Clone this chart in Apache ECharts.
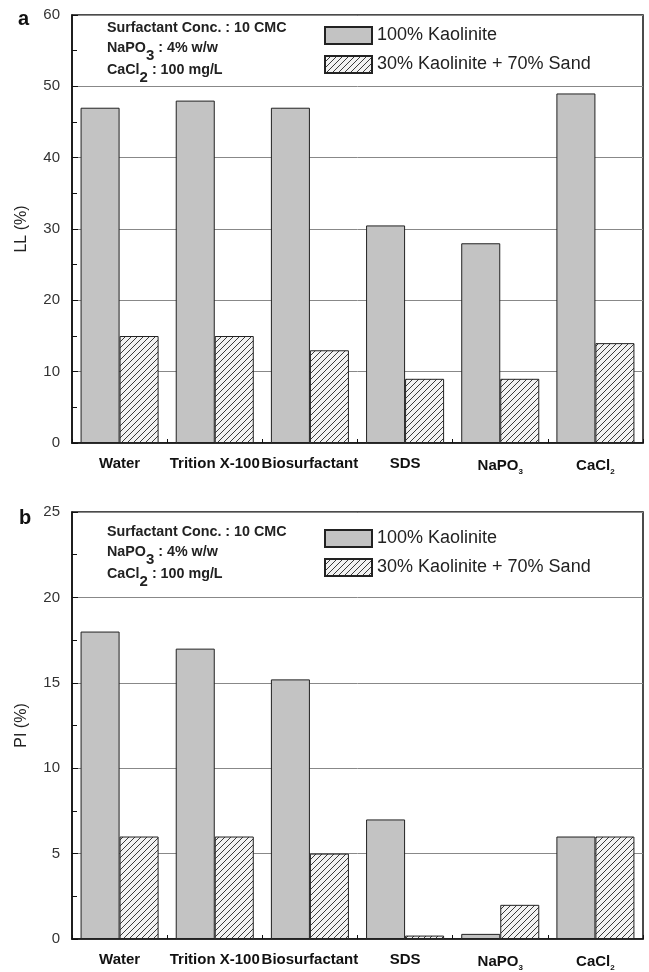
<!DOCTYPE html>
<html><head><meta charset="utf-8">
<script src="https://cdn.jsdelivr.net/npm/echarts@6/dist/echarts.min.js"></script>
<style>html,body{margin:0;padding:0;background:#fff}#c{width:649px;height:972px}</style>
</head><body><div id="c"></div>
<script>
const categories = ['Water','Trition X-100','Biosurfactant','SDS','NaPO3','CaCl2'];
const seriesNames = ['100% Kaolinite','30% Kaolinite + 70% Sand'];
const llKaolinite = [47, 48, 47, 30.5, 28, 49];
const llMix = [15, 15, 13, 9, 9, 14];
const piKaolinite = [18, 17, 15.2, 7, 0.3, 6];
const piMix = [6, 6, 5, 0.2, 2, 6];
const llTicks = {min: 0, max: 60, interval: 10};
const piTicks = {min: 0, max: 25, interval: 5};

function hatch() {
  const s = 6;
  const cv = document.createElement('canvas');
  cv.width = s; cv.height = s;
  const ctx = cv.getContext('2d');
  ctx.fillStyle = '#f2f2f2';
  ctx.fillRect(0, 0, s, s);
  ctx.strokeStyle = '#3a3a3a';
  ctx.lineWidth = 1;
  ctx.beginPath();
  ctx.moveTo(-1, s + 1); ctx.lineTo(s + 1, -1);
  ctx.moveTo(-1, 1); ctx.lineTo(1, -1);
  ctx.moveTo(s - 1, s + 1); ctx.lineTo(s + 1, s - 1);
  ctx.stroke();
  return {image: cv, repeat: 'repeat'};
}
const hatchFill = hatch();
const grayFill = '#c3c3c3';

const chart = echarts.init(document.getElementById('c'), null, {renderer: 'canvas'});
const font = 'Arial, "Liberation Sans", sans-serif';

const catLabel = {
  interval: 0,
  fontFamily: font, fontWeight: 'bold', fontSize: 15, color: '#111', margin: 13,
  formatter: v => {
    if (v === 'NaPO3') return '{b|NaPO}{s|3}';
    if (v === 'CaCl2') return '{b|CaCl}{s|2}';
    return '{b|' + v + '}';
  },
  rich: {
    b: {fontFamily: font, fontWeight: 'bold', fontSize: 15, color: '#111'},
    s: {fontFamily: font, fontWeight: 'bold', fontSize: 8, color: '#111', padding: [12, 0, 0, 0]}
  }
};

function xAxis(gi) {
  return {
    type: 'category', gridIndex: gi, data: categories,
    axisLine: {lineStyle: {color: '#111', width: 1.5}},
    axisTick: {show: true, inside: true, length: 4, interval: 0, lineStyle: {color: '#111'}},
    axisLabel: catLabel,
    splitLine: {show: false}
  };
}
function yAxis(gi, t, name) {
  return {
    type: 'value', gridIndex: gi, min: t.min, max: t.max, interval: t.interval,
    name: name, nameLocation: 'middle', nameGap: 42,
    nameTextStyle: {fontFamily: font, fontSize: 16, color: '#222'},
    axisLine: {show: true, lineStyle: {color: '#111', width: 1.5}},
    axisTick: {show: true, inside: true, length: 6, lineStyle: {color: '#111'}},
    minorTick: {show: true, splitNumber: 2, length: 5, lineStyle: {color: '#111'}},
    axisLabel: {fontFamily: font, fontSize: 15, color: '#333', margin: 12},
    splitLine: {show: true, lineStyle: {color: '#888', width: 1}}
  };
}
function barSeries(name, xi, data, fill, z) {
  return {
    type: 'bar', name: name, xAxisIndex: xi, yAxisIndex: xi, data: data,
    barGap: '0%', barCategoryGap: '18%',
    itemStyle: {color: fill, borderColor: '#222', borderWidth: 1},
    emphasis: {disabled: true}, z: z
  };
}
function legend(top) {
  return {
    top: top, left: 319, orient: 'vertical', itemWidth: 47, itemHeight: 17, itemGap: 10,
    icon: 'rect',
    data: seriesNames,
    textStyle: {fontFamily: font, fontSize: 18, color: '#222'},
    selectedMode: false
  };
}
function note(top) {
  const m = {fontFamily: font, fontWeight: 'bold', fontSize: 14.3, fill: '#222'};
  const s = {fontFamily: font, fontWeight: 'bold', fontSize: 15, fill: '#222', padding: [16, 0, 0, 0]};
  return [
    {type: 'text', left: 107, top: top, style: Object.assign({text: 'Surfactant Conc. : 10 CMC'}, m)},
    {type: 'text', left: 107, top: top + 20, style: Object.assign({}, m, {
      text: '{m|NaPO}{s|3}{m| : 4% w/w}', rich: {m: m, s: s}
    })},
    {type: 'text', left: 107, top: top + 42, style: Object.assign({}, m, {
      text: '{m|CaCl}{s|2}{m| : 100 mg/L}', rich: {m: m, s: s}
    })}
  ];
}

chart.setOption({
  animation: false,
  backgroundColor: '#fff',
  grid: [
    {left: 72, right: 6, top: 15, bottom: 529, show: true, borderColor: '#111', borderWidth: 1.5, containLabel: false},
    {left: 72, right: 6, top: 512, bottom: 32, show: true, borderColor: '#111', borderWidth: 1.5, containLabel: false}
  ],
  xAxis: [xAxis(0), xAxis(1)],
  yAxis: [yAxis(0, llTicks, 'LL (%)'), yAxis(1, piTicks, 'PI (%)')],
  legend: [legend(21), legend(524)],
  series: [
    barSeries(seriesNames[0], 0, llKaolinite, grayFill, 2),
    barSeries(seriesNames[1], 0, llMix, hatchFill, 2),
    barSeries(seriesNames[0], 1, piKaolinite, grayFill, 2),
    barSeries(seriesNames[1], 1, piMix, hatchFill, 2)
  ],
  graphic: [
    {type: 'text', left: 18, top: 9, style: {text: 'a', fontFamily: font, fontWeight: 'bold', fontSize: 20, fill: '#111'}},
    {type: 'text', left: 19, top: 508, style: {text: 'b', fontFamily: font, fontWeight: 'bold', fontSize: 20, fill: '#111'}}
  ].concat(note(21), note(525))
});
</script></body></html>
